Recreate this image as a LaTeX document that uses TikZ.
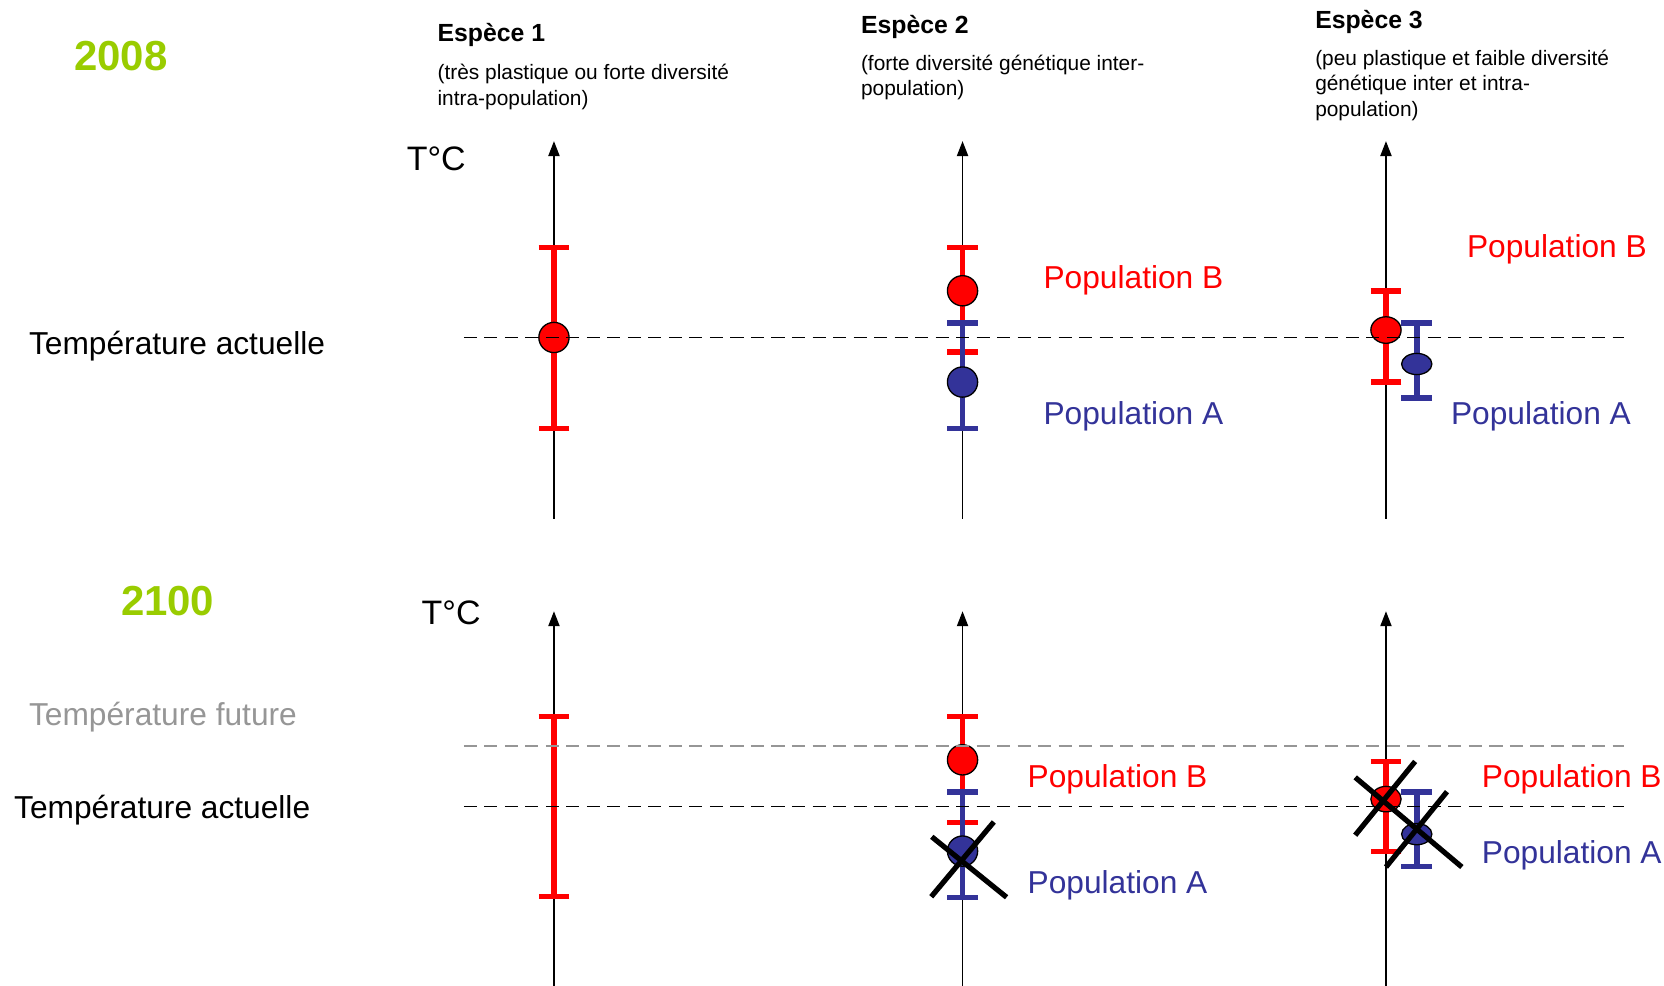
\documentclass[tikz,border=0pt]{standalone}
\usepackage{fontspec}
\setmainfont{Liberation Sans}
\usetikzlibrary{arrows.meta,shapes.geometric}

\definecolor{popred}{RGB}{255,0,0}
\definecolor{popblue}{RGB}{51,51,153}
\definecolor{yeargreen}{RGB}{153,204,0}
\definecolor{futgray}{RGB}{150,150,150}

\tikzset{
    tempaxis/.style={line width=0.8pt, -{Triangle[length=8pt,width=6pt]}},
    errbar/.style={line width=3pt, {Bar[width=0.58cm]}-{Bar[width=0.58cm]}},
    templine/.style={line width=1pt, dash pattern=on 7pt off 4pt},
    dead/.style={line width=2.8pt},
    mean/.style={draw, ellipse, line width=0.7pt, inner sep=0pt, minimum width=0.57cm, minimum height=0.57cm},
    poplab/.style={anchor=west, inner sep=0pt, font=\fontsize{17}{20}\selectfont},
}

\begin{document}
\begin{tikzpicture}
        \useasboundingbox (0,0) rectangle (31.36,18.58);

        % titles
        \node[yeargreen, font=\bfseries\fontsize{22.5}{25}\selectfont] (y2008) at (2.28,17.52) {2008};
        \node[yeargreen, font=\bfseries\fontsize{22.5}{25}\selectfont] (y2100) at (3.16,7.26) {2100};

        \begin{scope}[every node/.style={anchor=base west, inner sep=0pt, font=\bfseries\fontsize{13.3}{16}\selectfont}]
            \node (sp1) at (8.24,17.79) {Espèce 1};
            \node (sp2) at (16.22,17.95) {Espèce 2};
            \node (sp3) at (24.78,18.05) {Espèce 3};
        \end{scope}
        \begin{scope}[every node/.style={anchor=north west, inner sep=0pt, align=left, font=\fontsize{11.2}{13.66}\selectfont}]
            \node (d1) at (8.24,17.37) {(très plastique ou forte diversité\\intra-population)};
            \node (d2) at (16.22,17.55) {(forte diversité génétique inter-\\population)};
            \node (d3) at (24.78,17.65) {(peu plastique et faible diversité\\génétique inter et intra-\\population)};
        \end{scope}

        \begin{scope}[every node/.style={anchor=west, inner sep=0pt}]
            \node[font=\fontsize{18.2}{21}\selectfont] (tc1) at (7.66,15.58) {T°C};
            \node[font=\fontsize{18.2}{21}\selectfont] (tc2) at (7.94,7.04) {T°C};
            \node[font=\fontsize{17}{20}\selectfont] (act1) at (0.54,12.06) {Température actuelle};
            \node[font=\fontsize{17}{20}\selectfont] (act2) at (0.26,3.32) {Température actuelle};
            \node[futgray, font=\fontsize{17}{20}\selectfont] (fut) at (0.54,5.06) {Température future};
        \end{scope}

        % axes
        \coordinate (a1b) at (10.44,8.80);  \coordinate (a1t) at (10.44,15.92);
        \coordinate (a2b) at (18.14,8.80);  \coordinate (a2t) at (18.14,15.92);
        \coordinate (a3b) at (26.12,8.80);  \coordinate (a3t) at (26.12,15.92);
        \coordinate (b1b) at (10.44,0);     \coordinate (b1t) at (10.44,7.06);
        \coordinate (b2b) at (18.14,0);     \coordinate (b2t) at (18.14,7.06);
        \coordinate (b3b) at (26.12,0);     \coordinate (b3t) at (26.12,7.06);

        \path (a1b) edge[tempaxis] (a1t);
        \path (a2b) edge[tempaxis] (a2t);
        \path (a3b) edge[tempaxis] (a3t);
        \path (b1b) edge[tempaxis] (b1t);
        \path (b2b) edge[tempaxis] (b2t);
        \path (b3b) edge[tempaxis] (b3t);

        % 2008
        \draw[errbar, popred] (10.44,10.45) -- (10.44,13.97);
        \draw[errbar, popred] (18.14,11.89) -- (18.14,13.97);
        \draw[errbar, popblue] (18.14,10.45) -- (18.14,12.55);
        \draw[errbar, popred] (26.12,11.33) -- (26.12,13.15);
        \draw[errbar, popblue] (26.70,11.03) -- (26.70,12.55);

        \node[mean, fill=popred] (m1) at (10.44,12.22) {};
        \node[mean, fill=popred] (m2b) at (18.14,13.10) {};
        \node[mean, fill=popblue] (m2a) at (18.14,11.38) {};
        \node[mean, fill=popred, minimum height=0.50cm] (m3b) at (26.12,12.36) {};
        \node[mean, fill=popblue, minimum height=0.40cm] (m3a) at (26.70,11.72) {};

        \coordinate (n1l) at (8.74,12.22);  \coordinate (n1r) at (30.6,12.22);
        \path (n1l) edge[templine] (n1r);

        \node[poplab, popred] (lb2) at (19.66,13.30) {Population B};
        \node[poplab, popblue] (la2) at (19.66,10.74) {Population A};
        \node[poplab, popred] (lb3) at (27.64,13.88) {Population B};
        \node[poplab, popblue] (la3) at (27.34,10.74) {Population A};

        % 2100
        \draw[errbar, popred] (10.44,1.63) -- (10.44,5.13);
        \draw[errbar, popred] (18.14,3.03) -- (18.14,5.13);
        \draw[errbar, popblue] (18.14,1.61) -- (18.14,3.71);
        \draw[errbar, popred] (26.12,2.48) -- (26.12,4.28);
        \draw[errbar, popblue] (26.70,2.20) -- (26.70,3.71);

        \node[mean, fill=popred] (f2b) at (18.14,4.26) {};
        \node[mean, fill=popblue] (f2a) at (18.14,2.54) {};
        \node[mean, fill=popred, minimum height=0.48cm] (f3b) at (26.12,3.52) {};
        \node[mean, fill=popblue, minimum height=0.40cm] (f3a) at (26.70,2.86) {};

        \coordinate (n2l) at (8.74,3.38);   \coordinate (n2r) at (30.6,3.38);
        \coordinate (n3l) at (8.74,4.52);   \coordinate (n3r) at (30.6,4.52);
        \path (n2l) edge[templine] (n2r);
        \path (n3l) edge[templine, futgray] (n3r);

        \draw[dead] (17.55,1.68) -- (18.73,3.09);
        \draw[dead] (17.56,2.81) -- (18.97,1.67);
        \draw[dead] (25.54,2.84) -- (26.67,4.23);
        \draw[dead] (25.54,3.93) -- (27.55,2.24);
        \draw[dead] (26.12,2.24) -- (27.27,3.66);

        \node[poplab, popred] (gb2) at (19.36,3.90) {Population B};
        \node[poplab, popblue] (ga2) at (19.36,1.90) {Population A};
        \node[poplab, popred] (gb3) at (27.92,3.90) {Population B};
        \node[poplab, popblue] (ga3) at (27.92,2.46) {Population A};
    \end{tikzpicture}
\end{document}
